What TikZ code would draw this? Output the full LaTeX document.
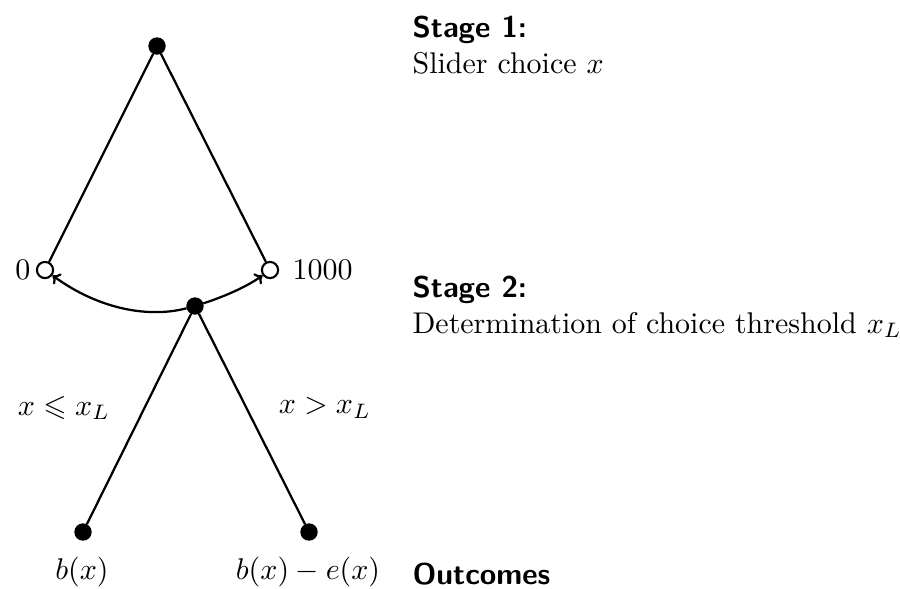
\documentclass[tikz,border=0pt]{standalone}
\usepackage{amssymb}
\usetikzlibrary{arrows.meta}
\begin{document}
\begin{tikzpicture}[x=0.01173cm,y=-0.01173cm,
  filled/.style={circle,fill=black,draw=black,inner sep=0pt,minimum size=5.4pt},
  hollow/.style={circle,fill=white,draw=black,line width=0.7pt,inner sep=0pt,minimum size=5.4pt},
  edge/.style={line width=0.75pt},
  arr/.style={line width=0.75pt,-{To[length=2.4pt,width=4.4pt]}},
  stagetitle/.style={anchor=base west,font=\sffamily\bfseries,inner sep=0pt},
  stagetext/.style={anchor=base west,inner sep=0pt},
  lbl/.style={inner sep=0pt}]
\useasboundingbox (0,0) rectangle (900,588);
\node[filled] (top) at (157,46) {};
\node[hollow] (zero) at (45,270) {};
\node[hollow] (thou) at (270,270) {};
\node[filled] (mid) at (195,306) {};
\node[filled] (bl) at (83,532) {};
\node[filled] (br) at (309,532) {};
\draw[edge] (top) -- (zero);
\draw[edge] (top) -- (thou);
\draw[edge] (mid) -- (bl);
\draw[edge] (mid) -- (br);
\draw[arr] (mid) .. controls (150,318) and (100,310) .. (zero);
\draw[arr] (mid) .. controls (220,298) and (245,288) .. (thou);
\node[lbl,anchor=east] (l0) at (31,270) {$0$};
\node[lbl,anchor=west] (l1000) at (292,270) {$1000$};
\node[lbl] (lleft) at (64,408) {$x \leqslant x_L$};
\node[lbl] (lright) at (325,408) {$x > x_L$};
\node[lbl,anchor=base] (o1) at (82,579) {$b(x)$};
\node[lbl,anchor=base] (o2) at (308,579) {$b(x)-e(x)$};
\node[stagetitle] (s1) at (412,37) {Stage 1:};
\node[stagetext] (s1t) at (412,73) {Slider choice $x$};
\node[stagetitle] (s2) at (412,297) {Stage 2:};
\node[stagetext] (s2t) at (412,333) {Determination of choice threshold $x_L$};
\node[stagetitle] (s3) at (412,584) {Outcomes};
\end{tikzpicture}
\end{document}
